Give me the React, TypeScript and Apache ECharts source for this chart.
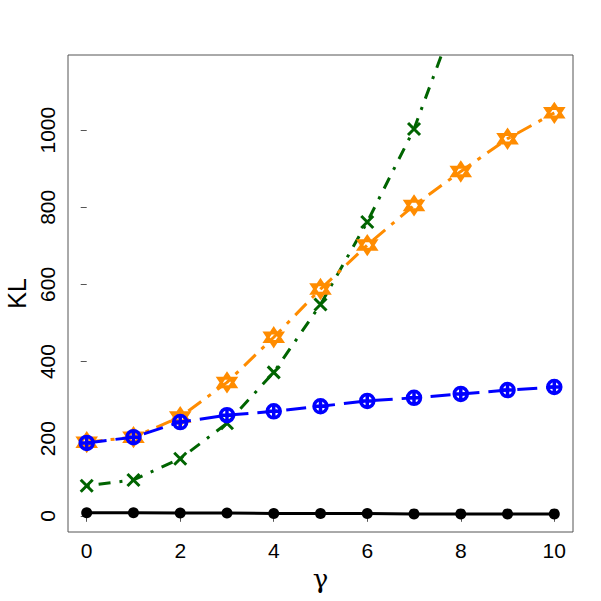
import React, { useEffect, useRef } from "react";
import * as echarts from "echarts";

const gammaValues = [0, 1, 2, 3, 4, 5, 6, 7, 8, 9, 10];
const blackSeries = [8, 8, 7, 7, 6, 6, 6, 5, 5, 5, 5];
const blueSeries = [189, 204, 243, 261, 271, 284, 298, 306, 316, 326, 334];
const orangeSeries = [191, 204, 256, 346, 463, 588, 702, 805, 893, 978, 1045];
const greenSeries = [78, 93, 148, 240, 372, 548, 762, 1003, 1330, 1680, 2050];
const xTicks = [0, 2, 4, 6, 8, 10];
const yTicks = [0, 200, 400, 600, 800, 1000];

const PLUS_CIRCLE =
  "path://M0,-10 A10,10 0 1,1 0,10 A10,10 0 1,1 0,-10 Z M-10,0 L10,0 M0,-10 L0,10";
const STAR_DAVID =
  "path://M0,-10 L8.66,5 L-8.66,5 Z M0,10 L8.66,-5 L-8.66,-5 Z";
const CROSS = "path://M-10,-10 L10,10 M-10,10 L10,-10";

function pairs(vals: number[]) {
  return gammaValues.map((g, i) => [g, vals[i]]);
}

export default function App() {
  const ref = useRef<HTMLDivElement>(null);
  useEffect(() => {
    if (!ref.current) return;
    const chart = echarts.init(ref.current, null, { renderer: "svg" });
    const font = "Liberation Sans";
    chart.setOption({
      animation: false,
      backgroundColor: "#ffffff",
      grid: {
        left: 68,
        right: 28,
        top: 55,
        bottom: 69,
        show: true,
        borderColor: "#555555",
        borderWidth: 1,
        backgroundColor: "transparent",
        outerBoundsMode: "none",
        containLabel: false,
      },
      xAxis: {
        type: "value",
        min: -0.4,
        max: 10.4,
        name: "γ",
        nameLocation: "middle",
        nameGap: 26,
        nameTextStyle: { fontFamily: "DejaVu Serif", fontSize: 26, color: "#000" },
        axisLine: { show: false },
        splitLine: { show: false },
        axisTick: {
          show: true,
          inside: false,
          length: 6,
          customValues: xTicks,
          lineStyle: { color: "#555555" },
        },
        axisLabel: {
          customValues: xTicks,
          formatter: (v: number) => String(v),
          fontFamily: font,
          fontSize: 21,
          color: "#000",
          margin: 8,
        },
      },
      yAxis: {
        type: "value",
        min: -42,
        max: 1195,
        name: "KL",
        nameLocation: "middle",
        nameGap: 37,
        nameTextStyle: { fontFamily: font, fontSize: 25, color: "#000" },
        axisLine: { show: false },
        splitLine: { show: false },
        axisTick: {
          show: true,
          inside: false,
          length: 6,
          customValues: yTicks,
          lineStyle: { color: "#555555" },
        },
        axisLabel: {
          customValues: yTicks,
          formatter: (v: number) => String(v),
          rotate: 90,
          fontFamily: font,
          fontSize: 21,
          color: "#000",
          margin: 10,
        },
      },
      series: [
        {
          type: "line",
          data: pairs(blackSeries),
          symbol: "circle",
          symbolSize: 11,
          lineStyle: { color: "#000", width: 3 },
          itemStyle: { color: "#000" },
          z: 2,
        },
        {
          type: "line",
          data: pairs(greenSeries),
          symbol: CROSS,
          symbolSize: 12,
          lineStyle: { color: "#006400", width: 3, type: [3, 9, 12, 9] },
          itemStyle: { color: "rgba(0,0,0,0)", borderColor: "#006400", borderWidth: 3 },
          clip: true,
          z: 3,
        },
        {
          type: "line",
          data: pairs(orangeSeries),
          symbol: STAR_DAVID,
          symbolSize: 17,
          lineStyle: { color: "#FF8C00", width: 3, type: [16, 8, 4, 8] },
          itemStyle: { color: "rgba(0,0,0,0)", borderColor: "#FF8C00", borderWidth: 3 },
          z: 4,
        },
        {
          type: "line",
          data: pairs(blueSeries),
          symbol: PLUS_CIRCLE,
          symbolSize: 13,
          lineStyle: { color: "#0000FF", width: 3, type: [20, 9] },
          itemStyle: { color: "rgba(0,0,0,0)", borderColor: "#0000FF", borderWidth: 3.5 },
          z: 5,
        },
      ],
    });
    return () => chart.dispose();
  }, []);
  return (
    <div
      ref={ref}
      style={{ position: "absolute", left: 0, top: 0, width: 601, height: 601 }}
    />
  );
}
